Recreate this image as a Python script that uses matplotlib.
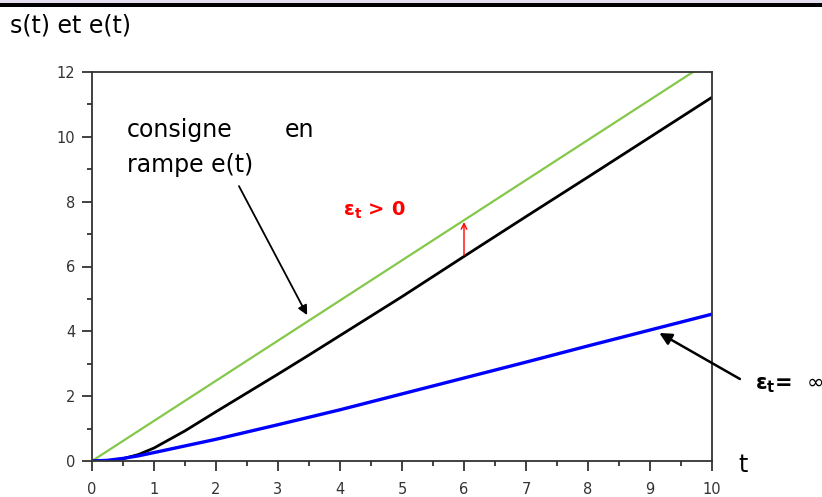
import matplotlib
matplotlib.use("Agg")
import matplotlib.pyplot as plt
from matplotlib.patches import Rectangle
from matplotlib.ticker import MultipleLocator

# --- data ---
t_e = [0, 10]
e_vals = [0, 12.38]          # consigne en rampe e(t)

t_s = [0, 0.25, 0.5, 0.75, 1, 1.5, 2, 2.5, 3, 3.5, 4, 4.5, 5, 5.5, 6, 7, 8, 9, 10]
s_vals = [0, 0.01, 0.07, 0.2, 0.4, 0.93, 1.52, 2.1, 2.68, 3.27, 3.87, 4.47,
          5.07, 5.69, 6.31, 7.54, 8.76, 9.99, 11.22]   # s(t), eps_t > 0

t_b = [0, 0.25, 0.5, 0.75, 1, 2, 3, 4, 5, 6, 7, 8, 9, 10]
b_vals = [0, 0.02, 0.08, 0.16, 0.26, 0.67, 1.12, 1.58, 2.07, 2.56, 3.05,
          3.55, 4.04, 4.53]  # s(t), eps_t = inf

x_ticks = list(range(0, 11))
y_ticks = list(range(0, 13, 2))

fig = plt.figure(figsize=(8.22, 4.97), dpi=100)
ax = fig.add_axes([92 / 822, 1 - 461 / 497, 620 / 822, 389 / 497])

ax.plot(t_e, e_vals, color="#84c84a", lw=1.6, solid_capstyle="butt")
ax.plot(t_s, s_vals, color="black", lw=2.0)
ax.plot(t_b, b_vals, color="#0000ff", lw=2.4)

ax.set_xlim(0, 10)
ax.set_ylim(0, 12)
ax.set_xticks(x_ticks)
ax.set_yticks(y_ticks)
ax.xaxis.set_minor_locator(MultipleLocator(0.5))
ax.yaxis.set_minor_locator(MultipleLocator(1))
ax.tick_params(which="major", direction="out", length=7, width=1.3,
               color="#333333", labelsize=10.5, labelcolor="#333333")
ax.tick_params(axis="x", which="major", pad=8)
ax.tick_params(axis="y", which="major", pad=5)
ax.tick_params(which="minor", direction="out", length=3.5, width=1.3, color="#333333")
for sp in ax.spines.values():
    sp.set_linewidth(1.3)
    sp.set_color("#333333")

# texts
fig.text(10 / 822, 1 - 25 / 497, "s(t) et e(t)", fontsize=17, va="center", ha="left")
ax.text(10.5, -0.12, "t", fontsize=17, va="center", ha="center", clip_on=False)
ax.text(0.565, 10.21, "consigne", fontsize=17, va="center", ha="left")
ax.text(3.11, 10.21, "en", fontsize=17, va="center", ha="left")
ax.text(0.565, 9.13, "rampe e(t)", fontsize=17, va="center", ha="left")
ax.text(4.05, 7.74, r"$\mathbf{\varepsilon_t}$ > 0", fontsize=14, color="red",
        fontweight="bold", va="center", ha="left")
ax.text(10.69, 2.34, r"$\mathbf{\varepsilon_t}$=  $\infty$", fontsize=15, color="black",
        fontweight="bold", va="center", ha="left", clip_on=False)

# arrows
ax.annotate("", xy=(3.47, 4.50), xytext=(2.37, 8.48),
            arrowprops=dict(arrowstyle="-|>", color="black", lw=1.3,
                            mutation_scale=14, shrinkA=0, shrinkB=0),
            annotation_clip=False)
ax.annotate("", xy=(6.0, 7.37), xytext=(6.0, 6.35),
            arrowprops=dict(arrowstyle="->", color="red", lw=1.0,
                            mutation_scale=10, shrinkA=0, shrinkB=0),
            annotation_clip=False)
ax.annotate("", xy=(9.15, 3.95), xytext=(10.45, 2.53),
            arrowprops=dict(arrowstyle="-|>", color="black", lw=1.8,
                            mutation_scale=18, shrinkA=0, shrinkB=0),
            annotation_clip=False)

# top frame band
fig.add_artist(Rectangle((0, 1 - 3 / 497), 1, 3 / 497, transform=fig.transFigure,
                         facecolor="#e4def0", edgecolor="none"))
fig.add_artist(Rectangle((0, 1 - 7 / 497), 1, 4 / 497, transform=fig.transFigure,
                         facecolor="black", edgecolor="none"))

fig.savefig("out.png", dpi=100)
